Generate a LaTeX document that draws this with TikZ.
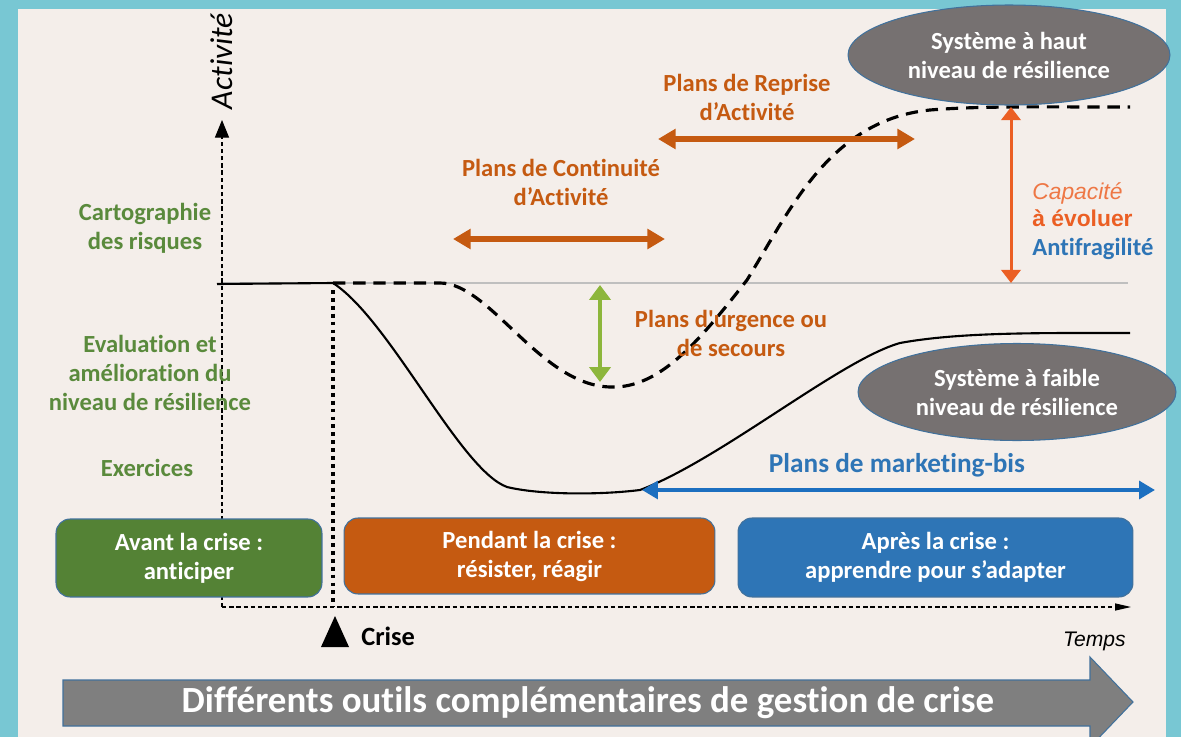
\documentclass[tikz,border=0pt]{standalone}
\usepackage{fontspec}
\setmainfont{Carlito}[Ligatures={TeX,NoCommon}]
\newfontfamily\arialfont{Liberation Sans}
\usetikzlibrary{arrows.meta,shapes.geometric}
\definecolor{frame}{HTML}{78C7D3}
\definecolor{paper}{HTML}{F4EEEA}
\definecolor{edge}{HTML}{41719C}
\definecolor{riskgreen}{HTML}{5A8A3C}
\definecolor{planorange}{HTML}{C55A11}
\definecolor{capred}{HTML}{EB5F24}
\definecolor{planblue}{HTML}{2E75B6}
\definecolor{mktblue}{HTML}{1C6FC0}
\definecolor{urggreen}{HTML}{8DB63C}
\definecolor{sysgray}{HTML}{767171}
\definecolor{boxgreen}{HTML}{548235}
\definecolor{bandgray}{HTML}{7F7F7F}

\tikzset{
  lbl/.style={font=\fontsize{14}{16.5}\selectfont\bfseries, align=center, inner sep=0pt},
  phase/.style={lbl, draw=edge, line width=0.6pt, rounded corners=8pt, text=white},
  sys/.style={lbl, ellipse, draw=edge, line width=0.6pt, fill=sysgray, text=white},
  plan/.style={line width=3pt, planorange, {Triangle[length=10pt,width=11pt]}-{Triangle[length=10pt,width=11pt]}},
  axis/.style={line width=0.6pt, dash pattern=on 2.5pt off 1.6pt},
  dashcurve/.style={line width=1.8pt, dash pattern=on 7pt off 4.5pt}
}

\begin{document}
\begin{tikzpicture}[x=0.02cm, y=-0.02cm]
    \useasboundingbox (0,0) rectangle (1181,737);
    \clip (0,0) rectangle (1181,737);
    \fill[frame] (0,0) rectangle (1181,737);
    \fill[paper] (18,9) rectangle (1166,737);

    \coordinate (origin) at (222,607);
    \coordinate (yTop) at (222,120);
    \coordinate (xEnd) at (1131,607);
    \coordinate (crisisTop) at (333,290);
    \coordinate (crisisFoot) at (333,607);
    \coordinate (pcaL) at (453,239);
    \coordinate (pcaR) at (665,239);
    \coordinate (praL) at (658,139);
    \coordinate (praR) at (915,139);
    \coordinate (urgT) at (600,285);
    \coordinate (urgB) at (600,382);
    \coordinate (mktL) at (642,490);
    \coordinate (mktR) at (1155,490);
    \coordinate (capT) at (1011,107);
    \coordinate (capB) at (1011,283);

    \draw[black!25, line width=0.6pt] (222,283) -- (1128,283);
    \draw[line width=1.2pt] (217,284) -- (333,283) .. controls (390,320) and (460,470) .. (507,487)
        .. controls (540,495) and (600,495) .. (640,490) .. controls (720,460) and (840,360) .. (900,343)
        .. controls (960,332) and (1040,333) .. (1130,333);
    \draw[dashcurve] (333,283) -- (440,283) .. controls (490,283) and (540,385) .. (610,387)
        .. controls (660,389) and (700,340) .. (747,280) .. controls (790,210) and (830,120) .. (930,110)
        .. controls (980,106) and (1030,107) .. (1130,107);
    \draw[line width=1.8pt, dash pattern=on 2.2pt off 2.3pt] (crisisTop) -- (crisisFoot);

    \draw[axis, -{Triangle[length=10pt,width=8pt]}] (origin) -- (yTop);
    \draw[axis, -{Triangle[length=9pt,width=4pt]}] (origin) -- (xEnd);
    \node[font=\fontsize{18}{21}\selectfont\itshape, rotate=90, inner sep=0pt] (act) at (222,61) {Activité};
    \node[font=\arialfont\fontsize{12}{14}\selectfont\itshape, anchor=east, inner sep=0pt] (temps) at (1126,641) {Temps};
    \fill (321,647) -- (349,647) -- (335,616) -- cycle;
    \node[lbl, font=\fontsize{15}{18}\selectfont\bfseries, anchor=west] (crise) at (361,636) {Crise};

    \node[lbl, riskgreen] (cart) at (145,228) {Cartographie\\des risques};
    \node[lbl, riskgreen] (evalu) at (150,373) {Evaluation et\\amélioration du\\niveau de résilience};
    \node[lbl, riskgreen] (exer) at (147,468) {Exercices};

    \node[lbl, planorange] (pra) at (747,97) {Plans de Reprise\\d’Activité};
    \node[lbl, planorange] (pca) at (561,182) {Plans de Continuité\\d’Activité};
    \node[lbl, planorange] (urg) at (731,333) {Plans d\textquotesingle urgence ou\\de secours};
    \draw[plan] (praL) -- (praR);
    \draw[plan] (pcaL) -- (pcaR);
    \draw[line width=2.2pt, urggreen, {Triangle[length=8.5pt,width=12pt]}-{Triangle[length=8.5pt,width=12pt]}] (urgT) -- (urgB);

    \node[lbl, font=\fontsize{15.5}{18}\selectfont\bfseries, planblue] (mkt) at (897,465) {Plans de marketing-bis};
    \draw[line width=2.3pt, mktblue, {Triangle[length=9pt,width=10pt]}-{Triangle[length=9pt,width=10pt]}] (mktL) -- (mktR);

    \draw[line width=1.7pt, capred, {Triangle[length=7.5pt,width=11pt]}-{Triangle[length=7.5pt,width=11pt]}] (capT) -- (capB);
    \node[font=\arialfont\fontsize{13}{15}\selectfont\itshape, text=capred!85, anchor=west, inner sep=0pt] (cap) at (1032,193) {Capacité};
    \node[font=\arialfont\fontsize{13}{15}\selectfont\bfseries, text=capred, anchor=west, inner sep=0pt] (evol) at (1032,218) {à évoluer};
    \node[lbl, planblue, anchor=west] (antif) at (1032,249) {Antifragilité};

    \node[sys, minimum width=6.44cm, minimum height=2cm] (hsys) at (1009,55) {Système à haut\\niveau de résilience};
    \node[sys, minimum width=6.36cm, minimum height=1.94cm] (lsys) at (1017,392) {Système à faible\\niveau de résilience};

    \node[phase, fill=boxgreen, minimum width=5.32cm, minimum height=1.56cm] (avant) at (189,558) {Avant la crise :\\anticiper};
    \node[phase, fill=planorange, minimum width=7.42cm, minimum height=1.52cm] (pendant) at (529.5,556) {Pendant la crise :\\résister, réagir};
    \node[phase, fill=planblue, minimum width=7.9cm, minimum height=1.58cm] (apres) at (935.5,557.5) {Après la crise :\\apprendre pour s’adapter};

    \filldraw[fill=bandgray, draw=edge, line width=0.6pt] (63,680) -- (1090,680) -- (1090,657) -- (1133,702)
        -- (1090,747) -- (1090,726) -- (63,726) -- cycle;
    \node[font=\fontsize{21}{24}\selectfont\bfseries, text=white] (tools) at (588,703) {Différents outils complémentaires de gestion de crise};
\end{tikzpicture}
\end{document}
